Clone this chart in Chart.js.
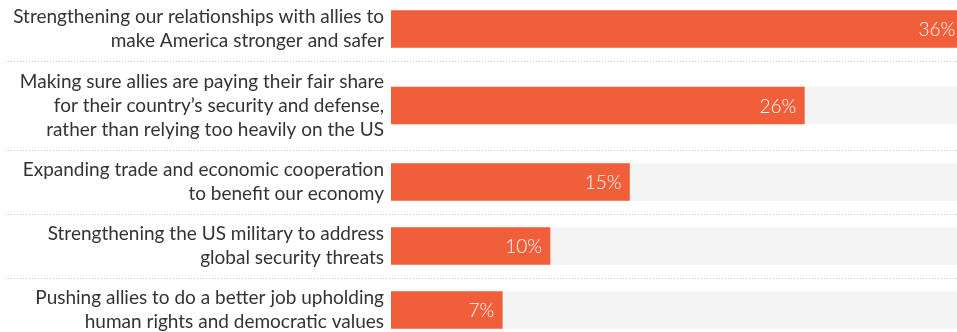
<!DOCTYPE html>
<html lang="en">
<head>
    <meta charset="UTF-8">
    <title>Foreign Policy Priorities</title>
    <script src="https://cdn.jsdelivr.net/npm/chart.js"></script>
    <style>
        html, body {
            margin: 0;
            padding: 0;
            background: #fff;
        }
        .chart-wrap {
            position: relative;
            width: 957px;
            height: 332px;
        }
    </style>
</head>
<body>
    <div class="chart-wrap">
        <canvas id="priorityChart"></canvas>
    </div>

    <script>
        const priorityLabels = [
            ['Strengthening our relationships with allies to', 'make America stronger and safer'],
            ['Making sure allies are paying their fair share', 'for their country\u2019s security and defense,', 'rather than relying too heavily on the US'],
            ['Expanding trade and economic cooperation', 'to benefit our economy'],
            ['Strengthening the US military to address', 'global security threats'],
            ['Pushing allies to do a better job upholding', 'human rights and democratic values']
        ];
        const priorityShares = [36, 26, 15, 10, 7];

        const ORANGE = '#f15f3a';
        const TRACK = '#f4f4f4';
        const FONT = 'Lato, "Noto Sans", sans-serif';

        // rows grow with the number of wrapped label lines
        const LINE_H = 25;
        const ROW_PAD = 14;
        const X_MAX = 35.6;
        const Y_OFFSET = 3;
        const LABEL_W = 391;

        const rowStarts = [];
        const rowCenters = [];
        let acc = 0;
        priorityLabels.forEach(lines => {
            const h = lines.length * LINE_H + ROW_PAD;
            rowStarts.push(acc);
            rowCenters.push(acc + h / 2);
            acc += h;
        });

        // dotted separators between rows
        const separators = {
            id: 'separators',
            beforeDatasetsDraw(chart) {
                const { ctx, scales: { y } } = chart;
                ctx.save();
                ctx.strokeStyle = '#cfcfcf';
                ctx.lineWidth = 1;
                ctx.setLineDash([1, 2]);
                rowStarts.slice(1).forEach(v => {
                    const py = Math.round(y.getPixelForValue(v)) + 0.5;
                    ctx.beginPath();
                    ctx.moveTo(5, py);
                    ctx.lineTo(chart.width, py);
                    ctx.stroke();
                });
                ctx.restore();
            }
        };

        // wrapped category text, right aligned against the bars
        const categoryText = {
            id: 'categoryText',
            afterDraw(chart) {
                const { ctx, scales: { y }, chartArea } = chart;
                ctx.save();
                ctx.fillStyle = '#333';
                ctx.font = '19px ' + FONT;
                ctx.textAlign = 'right';
                ctx.textBaseline = 'middle';
                priorityLabels.forEach((lines, i) => {
                    const cy = y.getPixelForValue(rowCenters[i]);
                    const top = cy - (lines.length - 1) * 24 / 2;
                    lines.forEach((line, j) => {
                        ctx.fillText(line, chartArea.left - 7, top + j * 24);
                    });
                });
                ctx.restore();
            }
        };

        // percentage text inside the end of each bar
        const valueLabels = {
            id: 'valueLabels',
            afterDatasetsDraw(chart) {
                const { ctx } = chart;
                const meta = chart.getDatasetMeta(0);
                ctx.save();
                ctx.fillStyle = '#fff';
                ctx.font = '300 19px ' + FONT;
                ctx.textAlign = 'right';
                ctx.textBaseline = 'middle';
                meta.data.forEach((bar, i) => {
                    ctx.fillText(priorityShares[i] + '%', bar.x - 8, bar.y + 1);
                });
                ctx.restore();
            }
        };

        new Chart(document.getElementById('priorityChart'), {
            type: 'bar',
            data: {
                datasets: [{
                    data: priorityShares.map((v, i) => ({ x: v, y: rowCenters[i] })),
                    backgroundColor: ORANGE,
                    order: 1
                }, {
                    data: priorityShares.map((v, i) => ({ x: X_MAX, y: rowCenters[i] })),
                    backgroundColor: TRACK,
                    order: 2
                }]
            },
            options: {
                indexAxis: 'y',
                responsive: true,
                maintainAspectRatio: false,
                animation: false,
                layout: { padding: 0 },
                datasets: {
                    bar: {
                        barThickness: 37,
                        grouped: false,
                        borderWidth: 0
                    }
                },
                plugins: {
                    legend: { display: false },
                    tooltip: { enabled: false }
                },
                scales: {
                    x: {
                        type: 'linear',
                        display: false,
                        min: 0,
                        max: X_MAX
                    },
                    y: {
                        type: 'linear',
                        reverse: true,
                        offset: false,
                        min: Y_OFFSET,
                        max: Y_OFFSET + 332,
                        grid: { display: false, offset: false },
                        border: { display: false },
                        ticks: { display: false },
                        afterFit(scale) {
                            scale.width = LABEL_W;
                        }
                    }
                }
            },
            plugins: [separators, categoryText, valueLabels]
        });
    </script>
</body>
</html>
